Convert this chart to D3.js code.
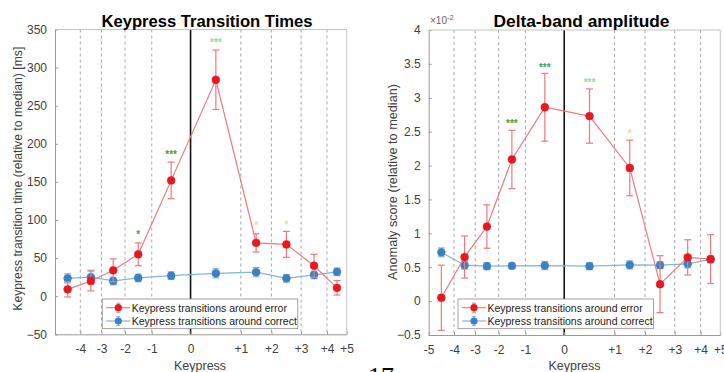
<!DOCTYPE html>
<html><head><meta charset="utf-8">
<script src="https://cdn.jsdelivr.net/npm/d3@7"></script>
<style>
html,body{margin:0;padding:0;background:#fff;}
svg{display:block;font-family:"Liberation Sans",Arial,sans-serif;}
</style></head>
<body>
<svg id="chart" width="724" height="372"></svg>
<script>
// ---------- DATA ----------
// keypress boundary positions (time axis, arbitrary ms-like units) and their labels
const boundaries = [-461, -375, -303, -223, -132, 0, 171, 275, 376, 464, 531];
const tickLabels = ["-5", "-4", "-3", "-2", "-1", "0", "+1", "+2", "+3", "+4", "+5"];
// position of each keypress transition (between boundaries)
const pointTimes = [-418, -339, -263, -178, -66, 86, 223, 326, 420, 498];

// Keypress transition times [ms]
const ktError = [9, 20, 34, 55, 152, 284, 70, 68, 40, 11];
const ktErrorSE = [10, 13, 15, 15, 24, 39, 12, 17, 15, 9.5];
const ktCorrect = [23.5, 25, 20, 24, 27, 30, 31.5, 23.5, 28, 32];
const ktCorrectSE = [6, 9, 5, 5, 5, 6, 6, 5, 5, 5];
const ktYTicks = [-50, 0, 50, 100, 150, 200, 250, 300, 350];
const ktStars = ["", "", "", "*", "***", "***", "*", "*", "", ""];
const ktStarY = [0, 0, 0, 83, 188, 336, 96, 97, 0, 0];
const ktStarLevel = [0, 0, 0, 1, 1, 2, 3, 3, 0, 0];

// Delta-band amplitude anomaly score (x 10^-2)
const dbError = [0.05, 0.65, 1.10, 2.09, 2.86, 2.73, 1.965, 0.25, 0.645, 0.62];
const dbErrorSE = [0.48, 0.31, 0.32, 0.43, 0.5, 0.4, 0.41, 0.42, 0.26, 0.36];
const dbCorrect = [0.72, 0.53, 0.515, 0.52, 0.525, 0.515, 0.534, 0.53, 0.55, 0.615];
const dbCorrectSE = [0.065, 0.06, 0.05, 0.04, 0.06, 0.05, 0.06, 0.05, 0.06, 0.05];
const dbYTicks = [-0.5, 0, 0.5, 1, 1.5, 2, 2.5, 3, 3.5, 4];
const dbStars = ["", "", "", "***", "***", "***", "*", "", "", ""];
const dbStarY = [0, 0, 0, 2.65, 3.48, 3.25, 2.5, 0, 0, 0];
const dbStarLevel = [0, 0, 0, 1, 1, 2, 3, 0, 0, 0];

const legendLabels = ["Keypress transitions around error", "Keypress transitions around correct"];

// ---------- STYLE ----------
const starColors = {1: "#3f9f3f", 2: "#9fd88a", 3: "#d3e6a2"};
const red = {marker: "#e8181e", line: "#f07a7c", bar: "#ef7a7c"};
const blue = {marker: "#3b80c3", line: "#82b4de", bar: "#86b8e0"};
const axisGray = "#9a9a9a";
const textGray = "#404040";

const svg = d3.select("#chart");

function panel(opt) {
  const g = svg.append("g");
  const x = d3.scaleLinear().domain([boundaries[0], boundaries[boundaries.length - 1]]).range([opt.x0, opt.x1]);
  const y = d3.scaleLinear().domain(opt.yDomain).range([opt.y1, opt.y0]);

  // dashed boundary lines
  g.selectAll("line.dash").data(boundaries.filter(b => b !== 0 && b !== boundaries[0] && b !== boundaries[boundaries.length - 1]))
    .enter().append("line")
    .attr("x1", d => x(d)).attr("x2", d => x(d))
    .attr("y1", opt.y0).attr("y2", opt.y1)
    .attr("stroke", "#a8a8a8").attr("stroke-width", 1).attr("stroke-dasharray", "3,3");

  // zero line
  g.append("line").attr("x1", x(0)).attr("x2", x(0)).attr("y1", opt.y0).attr("y2", opt.y1)
    .attr("stroke", "#111").attr("stroke-width", 1.6);

  // axes
  const yAxis = d3.axisLeft(y).tickValues(opt.yTicks).tickSizeInner(-3).tickSizeOuter(0).tickPadding(8)
    .tickFormat(d => d3.format("~g")(d));
  const ga = g.append("g").attr("transform", `translate(${opt.x0},0)`).call(yAxis);
  ga.select(".domain").attr("stroke", axisGray);
  ga.selectAll(".tick line").attr("stroke", axisGray);
  ga.selectAll(".tick text").attr("fill", textGray).style("font-size", "12px").style("font-family", "Liberation Sans, Arial, sans-serif");

  const xAxis = d3.axisBottom(x).tickValues(boundaries).tickSizeInner(-3).tickSizeOuter(0).tickPadding(10)
    .tickFormat((d, i) => (opt.hideFirst && i === 0) ? "" : tickLabels[i]);
  const gx = g.append("g").attr("transform", `translate(0,${opt.y1})`).call(xAxis);
  gx.select(".domain").attr("stroke", axisGray);
  gx.selectAll(".tick line").attr("stroke", axisGray);
  gx.selectAll(".tick text").attr("fill", textGray).style("font-size", "12px").style("font-family", "Liberation Sans, Arial, sans-serif");

  // box top/right
  g.append("line").attr("x1", opt.x0).attr("x2", opt.x1).attr("y1", opt.y0).attr("y2", opt.y0).attr("stroke", "#c4c4c4");
  g.append("line").attr("x1", opt.x1).attr("x2", opt.x1).attr("y1", opt.y0).attr("y2", opt.y1).attr("stroke", "#c4c4c4");

  // series
  function series(vals, se, col) {
    const sg = g.append("g");
    const line = d3.line().x((d, i) => x(pointTimes[i])).y(d => y(d));
    sg.append("path").datum(vals).attr("d", line).attr("fill", "none").attr("stroke", col.line).attr("stroke-width", 1.2);
    const eb = sg.selectAll("g.eb").data(vals).enter().append("g");
    eb.append("line").attr("x1", (d, i) => x(pointTimes[i])).attr("x2", (d, i) => x(pointTimes[i]))
      .attr("y1", (d, i) => y(d - se[i])).attr("y2", (d, i) => y(d + se[i])).attr("stroke", col.bar).attr("stroke-width", 1.2);
    [-1, 1].forEach(s => {
      eb.append("line").attr("x1", (d, i) => x(pointTimes[i]) - 3.5).attr("x2", (d, i) => x(pointTimes[i]) + 3.5)
        .attr("y1", (d, i) => y(d + s * se[i])).attr("y2", (d, i) => y(d + s * se[i])).attr("stroke", col.bar).attr("stroke-width", 1.2);
    });
    eb.append("circle").attr("cx", (d, i) => x(pointTimes[i])).attr("cy", d => y(d)).attr("r", 3.9)
      .attr("fill", col.marker).attr("stroke", col.marker).attr("stroke-width", 0.6);
  }
  series(opt.correct, opt.correctSE, blue);
  series(opt.error, opt.errorSE, red);

  // significance stars
  opt.stars.forEach((s, i) => {
    if (!s) return;
    g.append("text").attr("x", x(pointTimes[i])).attr("y", y(opt.starY[i]) + 5.5)
      .attr("text-anchor", "middle").attr("fill", starColors[opt.starLevel[i]])
      .style("font-size", "10px").style("font-weight", "bold").text(s);
  });

  // legend
  const lg = g.append("g");
  lg.append("rect").attr("x", opt.legX).attr("y", 299).attr("width", 195.5).attr("height", 29.7)
    .attr("fill", "#fff").attr("stroke", "#8a8a8a").attr("stroke-width", 0.8);
  [[red, 307.7], [blue, 321]].forEach(([col, yy], k) => {
    const lx = opt.legX + 4;
    lg.append("line").attr("x1", lx).attr("x2", lx + 24).attr("y1", yy).attr("y2", yy).attr("stroke", col.line).attr("stroke-width", 1.2);
    lg.append("line").attr("x1", lx + 12).attr("x2", lx + 12).attr("y1", yy - 4.5).attr("y2", yy + 4.5).attr("stroke", col.bar).attr("stroke-width", 1.1);
    lg.append("line").attr("x1", lx + 10).attr("x2", lx + 14).attr("y1", yy - 4.5).attr("y2", yy - 4.5).attr("stroke", col.bar);
    lg.append("line").attr("x1", lx + 10).attr("x2", lx + 14).attr("y1", yy + 4.5).attr("y2", yy + 4.5).attr("stroke", col.bar);
    lg.append("circle").attr("cx", lx + 12).attr("cy", yy).attr("r", 3.6).attr("fill", col.marker);
    lg.append("text").attr("x", opt.legX + 29.4).attr("y", yy + 3.8).attr("fill", "#222")
      .style("font-size", "10.5px").text(legendLabels[k]);
  });

  // labels
  g.append("text").attr("x", (opt.x0 + opt.x1) / 2 + opt.xlabDx).attr("y", 370).attr("text-anchor", "middle")
    .attr("fill", textGray).style("font-size", "12.5px").text("Keypress");
  g.append("text").attr("transform", `translate(${opt.ylabX},${opt.ylabY}) rotate(-90)`).attr("text-anchor", "middle")
    .attr("dy", "0.35em").attr("fill", textGray).style("font-size", opt.ylabSize)
    .attr("textLength", opt.ylabLen).attr("lengthAdjust", "spacingAndGlyphs").text(opt.ylab);
  g.append("text").attr("x", opt.titleX).attr("y", 26.5).attr("text-anchor", "middle").attr("fill", "#000")
    .style("font-size", "16px").style("font-weight", "bold")
    .attr("textLength", opt.titleLen).attr("lengthAdjust", "spacingAndGlyphs").text(opt.title);
  return {x, y};
}

panel({
  x0: 55, x1: 346.7, y0: 29.5, y1: 334.3, yDomain: [-50, 350], yTicks: ktYTicks, hideFirst: true,
  error: ktError, errorSE: ktErrorSE, correct: ktCorrect, correctSE: ktCorrectSE,
  stars: ktStars, starY: ktStarY, starLevel: ktStarLevel, legX: 102.3,
  ylab: "Keypress transition time (relative to median) [ms]", ylabX: 17.5, ylabY: 178.7, ylabSize: "12.2px", ylabLen: 264,
  title: "Keypress Transition Times", titleX: 207, titleLen: 211, xlabDx: -0.8
});
panel({
  x0: 428.7, x1: 720.3, y0: 30, y1: 335, yDomain: [-0.5, 4], yTicks: dbYTicks, hideFirst: false,
  error: dbError, errorSE: dbErrorSE, correct: dbCorrect, correctSE: dbCorrectSE,
  stars: dbStars, starY: dbStarY, starLevel: dbStarLevel, legX: 458,
  ylab: "Anomaly score (relative to median)", ylabX: 392, ylabY: 182, ylabSize: "13px", ylabLen: 196,
  title: "Delta-band amplitude", titleX: 581.5, titleLen: 176, xlabDx: 0
});

// exponent label
const ex = svg.append("text").attr("x", 430).attr("y", 24).attr("fill", "#666").style("font-size", "10px");
ex.append("tspan").text("×10");
ex.append("tspan").attr("dy", -4).style("font-size", "7.5px").text("-2");

// page number (cut off at bottom, as in the reference)
svg.append("text").attr("x", 368).attr("y", 385).attr("fill", "#000")
  .style("font-family", "Liberation Serif, Times New Roman, serif").style("font-size", "26px").text("17");
</script>
</body></html>
